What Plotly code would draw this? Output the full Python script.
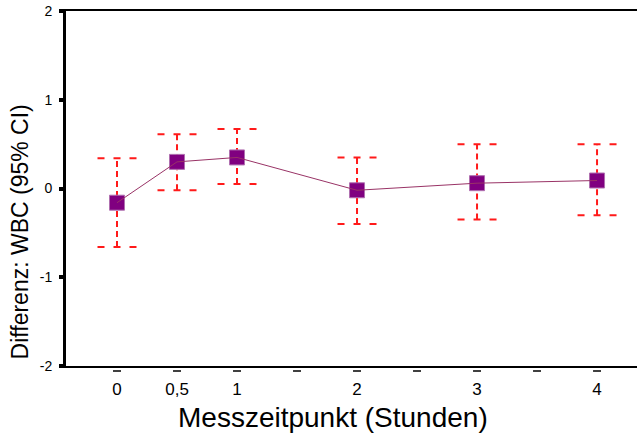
import plotly.graph_objects as go

# Data
hours = [0, 0.5, 1, 2, 3, 4]
hour_labels = ["0", "0,5", "1", "2", "3", "4"]
mean_diff = [-0.16, 0.30, 0.35, -0.02, 0.06, 0.09]
ci_lower = [-0.66, -0.02, 0.05, -0.40, -0.35, -0.30]
ci_upper = [0.34, 0.61, 0.67, 0.35, 0.50, 0.50]
minor_ticks = [0, 0.5, 1, 1.5, 2, 2.5, 3, 3.5, 4]
y_ticks = [-2, -1, 0, 1, 2]
y_tick_labels = ["-2", "-1", "0", "1", "2"]

CAP_HALF = 0.1625
X_RANGE = [-0.425, 4.333]
Y_RANGE = [-2, 2]

# Build dashed error-bar geometry from data
vx, vy, cx, cy = [], [], [], []
for x, lo, hi in zip(hours, ci_lower, ci_upper):
    vx += [x, x, None]
    vy += [lo, hi, None]
    for v in (hi, lo):
        cx += [x - CAP_HALF, x + CAP_HALF, None]
        cy += [v, v, None]

fig = go.Figure()
fig.add_trace(go.Scatter(x=vx, y=vy, mode="lines",
                         line=dict(color="#ff1a1a", width=2, dash="6px,4px"),
                         hoverinfo="skip", showlegend=False))
fig.add_trace(go.Scatter(x=cx, y=cy, mode="lines",
                         line=dict(color="#ff1a1a", width=2, dash="7px,9px"),
                         hoverinfo="skip", showlegend=False))
fig.add_trace(go.Scatter(x=hours, y=mean_diff, mode="markers",
                         marker=dict(symbol="square", size=15, color="#800080",
                                     line=dict(color="#b070b0", width=1)),
                         showlegend=False))
fig.add_trace(go.Scatter(x=hours, y=mean_diff, mode="lines",
                         line=dict(color="#993366", width=1),
                         showlegend=False))

# small horizontal tick dashes below the x axis (pixel-sized, anchored at data x)
shapes = []
for t in minor_ticks:
    shapes.append(dict(type="line", xref="x", yref="paper",
                       xsizemode="pixel", xanchor=t, x0=-4, x1=4,
                       ysizemode="pixel", yanchor=0, y0=-5, y1=-5,
                       line=dict(color="black", width=1.5)))

fig.update_layout(
    width=637, height=434,
    margin=dict(l=66, r=0, t=11, b=68),
    paper_bgcolor="white", plot_bgcolor="white",
    font=dict(family="Liberation Sans, Arial, sans-serif", color="black"),
    shapes=shapes,
    xaxis=dict(range=X_RANGE, tickvals=hours, ticktext=hour_labels,
               showgrid=False, zeroline=False, ticks="",
               showline=True, linecolor="black", linewidth=2, mirror=True,
               tickfont=dict(size=17), ticklabelstandoff=7),
    yaxis=dict(range=Y_RANGE, tickvals=y_ticks, ticktext=y_tick_labels,
               showgrid=False, zeroline=False,
               ticks="outside", ticklen=4, tickwidth=4, tickcolor="black",
               showline=True, linecolor="black", linewidth=3,
               tickfont=dict(size=14), ticklabelstandoff=4),
    annotations=[
        dict(text="Differenz: WBC (95% CI)", textangle=-90,
             xref="paper", yref="paper", x=-0.0806, y=0.379,
             xanchor="center", yanchor="middle", showarrow=False,
             font=dict(size=23)),
        dict(text="Messzeitpunkt (Stunden)",
             xref="paper", yref="paper", x=0.4676, y=-0.146,
             xanchor="center", yanchor="middle", showarrow=False,
             font=dict(size=28)),
    ],
)

fig.write_html("out.html")
